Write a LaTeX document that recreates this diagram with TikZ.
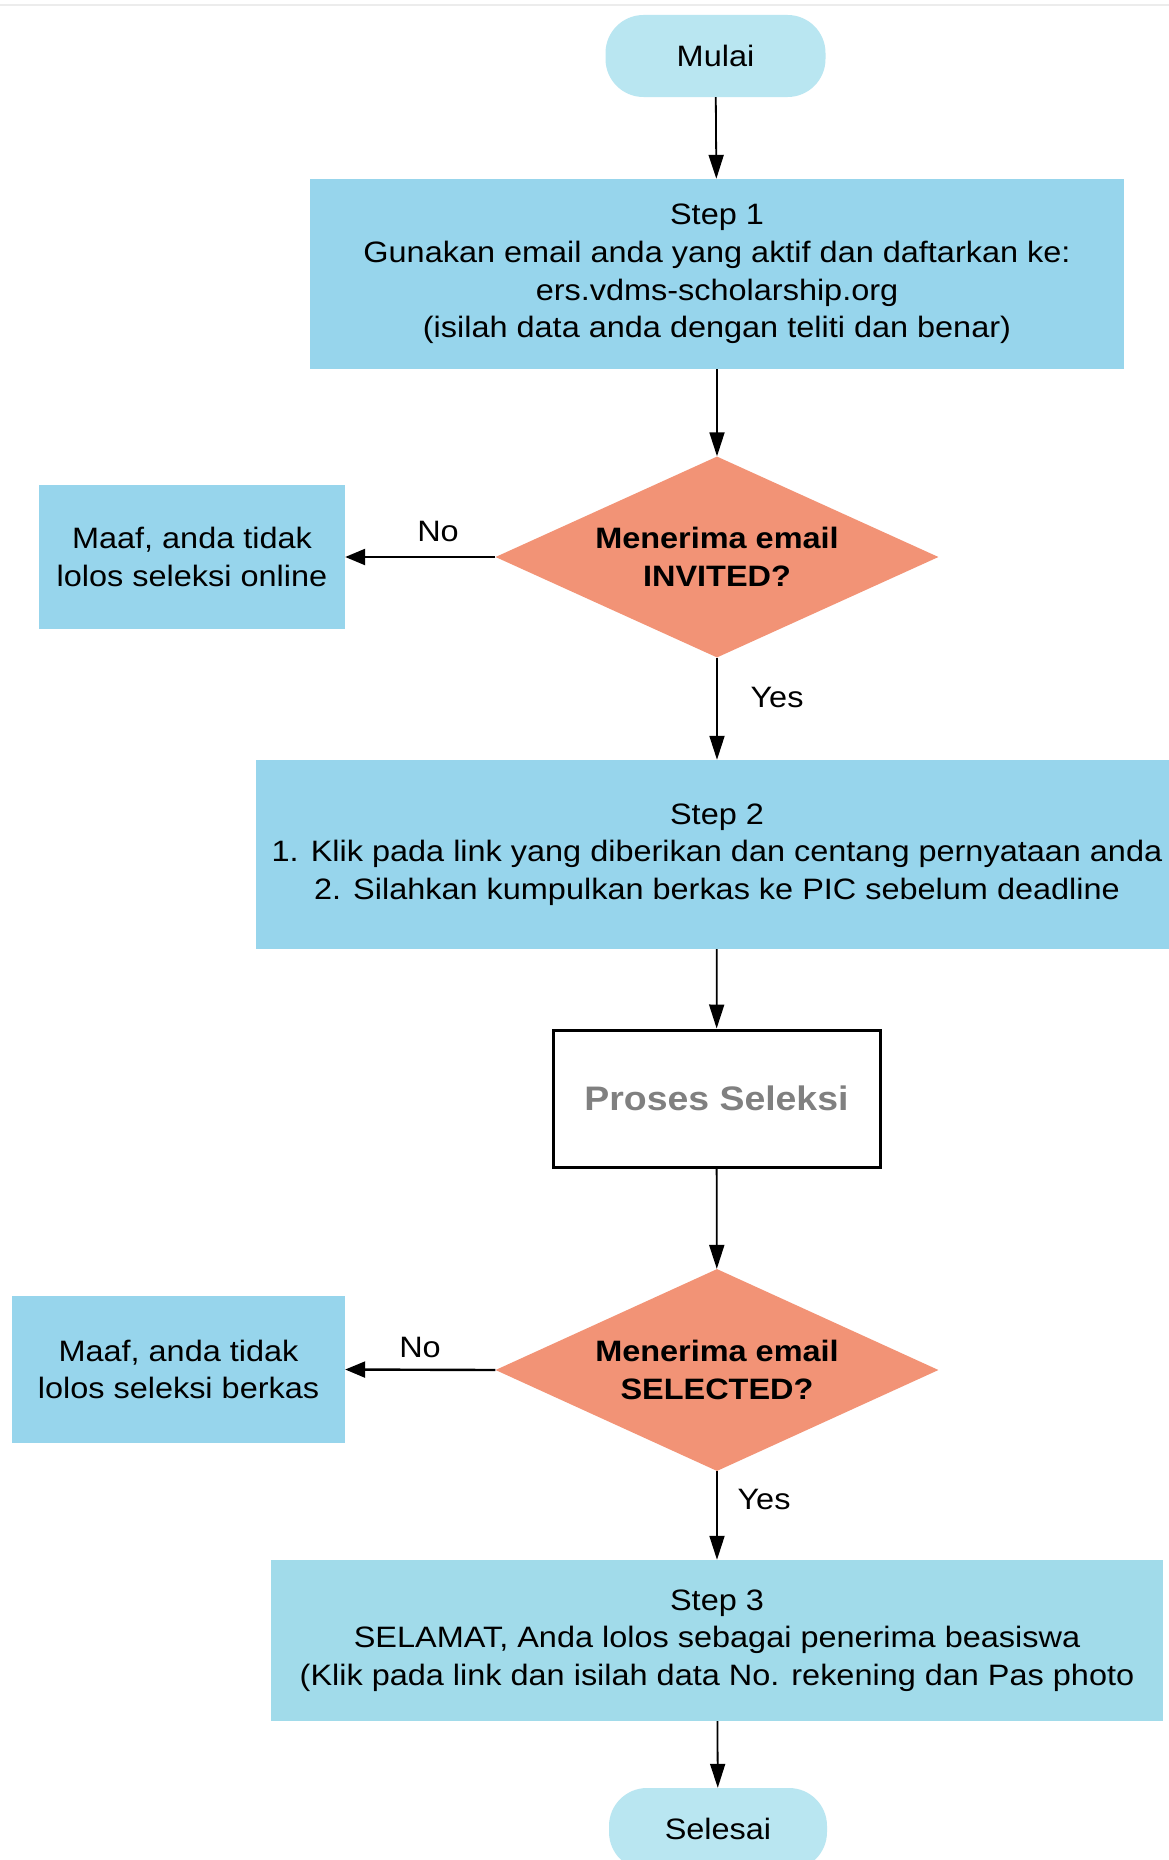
\documentclass[tikz,border=0pt]{standalone}
\usepackage{fontspec}
\setmainfont{Liberation Sans}[FakeStretch=1.1]
\usetikzlibrary{arrows.meta,shapes.geometric}
\definecolor{stepblue}{RGB}{151,213,236}
\definecolor{stepthree}{RGB}{161,219,234}
\definecolor{termblue}{RGB}{185,230,241}
\definecolor{salmon}{RGB}{242,147,118}
\definecolor{procgray}{RGB}{128,128,128}
\definecolor{topline}{RGB}{236,236,236}
\tikzset{
  base/.style={font=\fontsize{29.5}{37.6}\selectfont, align=center, inner sep=0pt, text=black},
  stepbox/.style={base, rectangle, fill=stepblue},
  term/.style={base, rectangle, rounded corners=38pt, fill=termblue},
  decision/.style={base, diamond, aspect=2.2, fill=salmon, font=\fontsize{29.5}{37.6}\selectfont\bfseries},
  procbox/.style={base, rectangle, draw=black, line width=3pt, fill=white, text=procgray, font=\fontsize{34}{40}\selectfont\bfseries},
  lbl/.style={base},
  conn/.style={line width=1.8pt, -{Triangle[length=24pt,width=15pt]}},
  sideconn/.style={conn, line width=2.4pt, -{Triangle[length=20pt,width=16pt]}}
}
\begin{document}
\begin{tikzpicture}[x=1pt,y=-1pt]
\useasboundingbox (0,0) rectangle (1169,1860);
\fill[white] (0,0) rectangle (1169,1860);
\draw[topline, line width=2pt] (0,5) -- (1169,5);

\node[term, minimum width=220pt, minimum height=82pt] (start) at (715.5,56) {Mulai};
\node[stepbox, minimum width=814pt, minimum height=190pt] (s1) at (717,274)
  {Step 1\\Gunakan email anda yang aktif dan daftarkan ke:\\ers.vdms-scholarship.org\\(isilah data anda dengan teliti dan benar)};
\node[decision, minimum width=443pt, minimum height=201pt] (d1) at (717,557) {Menerima email\\INVITED?};
\node[stepbox, minimum width=306pt, minimum height=144pt] (n1) at (192,557) {Maaf, anda tidak\\lolos seleksi online};
\node[stepbox, minimum width=922pt, minimum height=189pt] (s2) at (717,854.5)
  {Step 2\\1. Klik pada link yang diberikan dan centang pernyataan anda\\2. Silahkan kumpulkan berkas ke PIC sebelum deadline};
\node[procbox, minimum width=327pt, minimum height=137pt] (proc) at (716.5,1098.5) {Proses Seleksi};
\node[decision, minimum width=443pt, minimum height=202pt] (d2) at (717,1370) {Menerima email\\SELECTED?};
\node[stepbox, minimum width=333pt, minimum height=147pt] (n2) at (178.5,1369.5) {Maaf, anda tidak\\lolos seleksi berkas};
\node[stepbox, fill=stepthree, minimum width=892pt, minimum height=161pt] (s3) at (717,1640.5)
  {Step 3\\SELAMAT, Anda lolos sebagai penerima beasiswa\\(Klik pada link dan isilah data No. rekening dan Pas photo};
\node[term, minimum width=218pt, minimum height=82pt] (end) at (718,1829) {Selesai};

\node[lbl] (no1) at (438,531) {No};
\node[lbl] (yes1) at (777,697) {Yes};
\node[lbl] (no2) at (420,1347) {No};
\node[lbl] (yes2) at (764,1499) {Yes};

\draw[conn] (start) -- (s1);
\draw[conn] (s1) -- (d1);
\draw[sideconn] (d1.west) -- (n1.east);
\draw[conn] (d1.south) -- (s2.north);
\draw[conn] (s2) -- (proc);
\draw[conn] (proc) -- (d2);
\draw[sideconn] (d2.west) -- (n2.east);
\draw[conn] (d2.south) -- (s3.north);
\draw[conn] (s3) -- (end);
\end{tikzpicture}
\end{document}
